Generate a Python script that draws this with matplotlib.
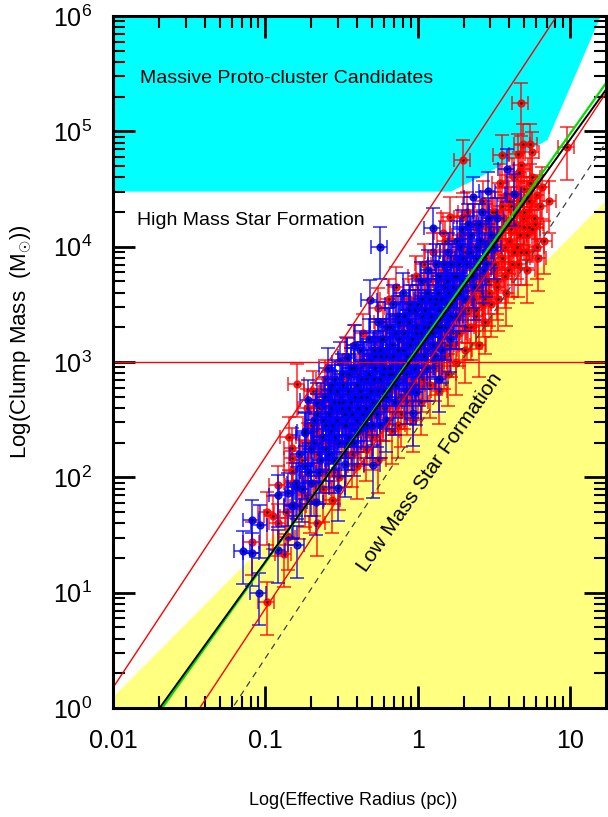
import numpy as np
import matplotlib.pyplot as plt
from matplotlib.ticker import LogLocator, NullFormatter

plt.rcParams['font.family'] = ['Liberation Sans', 'DejaVu Sans']
plt.rcParams['mathtext.fontset'] = 'custom'
plt.rcParams['mathtext.rm'] = 'Liberation Sans'
plt.rcParams['mathtext.it'] = 'Liberation Sans:italic'

# clumps, log10 of radius (pc) and mass (Msun)
red_log_r = [
    0.676, 0.552, 0.657, 0.689, 0.735, 0.748, 0.676, 0.663, 0.978, 0.814,
    0.720, 0.295, 0.210, 0.164, 0.700, -0.795, 0.295, 0.730, -1.090, -0.991,
    -0.991, -0.952, -0.920, -0.880, -0.853, -0.920, -0.847, -0.824, -0.824, -0.824,
    -0.720, -0.863, -0.263, -0.590,
    -0.74, -0.72, -0.70, -0.68, -0.66, -0.65, -0.63, -0.62, -0.60, -0.58,
    -0.57, -0.55, -0.53, -0.52, -0.50, -0.69, -0.61, -0.56, -0.66,
    -0.49, -0.48, -0.47, -0.45, -0.44, -0.43, -0.42, -0.40, -0.39, -0.38,
    -0.37, -0.36, -0.35, -0.34, -0.33, -0.32, -0.31, -0.30, -0.29, -0.28,
    -0.27, -0.26, -0.25,
    -0.24, -0.23, -0.22, -0.21, -0.20, -0.19, -0.18, -0.17, -0.16, -0.15,
    -0.14, -0.13, -0.12, -0.11, -0.10, -0.09, -0.08, -0.07, -0.06, -0.05,
    -0.04, -0.03, -0.02, -0.01, 0.00,
    0.01, 0.02, 0.03, 0.04, 0.05, 0.06, 0.07, 0.08, 0.09, 0.10,
    0.11, 0.12, 0.13, 0.14, 0.15, 0.16, 0.17, 0.18, 0.19, 0.20,
    0.21, 0.22, 0.23, 0.24, 0.25,
    0.26, 0.27, 0.28, 0.29, 0.30, 0.31, 0.32, 0.33, 0.34, 0.35,
    0.36, 0.37, 0.38, 0.39, 0.40, 0.41, 0.42, 0.43, 0.44, 0.45,
    0.46, 0.47, 0.48, 0.49, 0.50,
    0.51, 0.52, 0.53, 0.54, 0.55, 0.56, 0.57, 0.58, 0.60, 0.61,
    0.62, 0.63, 0.64, 0.65, 0.67, 0.68, 0.70, 0.72, 0.74, 0.76,
    0.78, 0.80,
    -0.64, -0.60, -0.54, -0.46, -0.41, -0.35, -0.30, -0.24, -0.18, -0.12,
    -0.06, 0.00, 0.05, 0.10, 0.15, 0.20, 0.25, 0.30, 0.35, 0.40,
    0.45, 0.50, 0.55, 0.60, 0.65, 0.70, 0.75, 0.32, 0.38, 0.44,
    0.52, 0.58, 0.66, 0.72, 0.78, 0.83, 0.86, 0.28, 0.22,
    -0.82, -0.78, -0.76, -0.73, -0.71, -0.67, -0.62, -0.59, -0.55, -0.51,
    -0.47, -0.43, -0.39, -0.37, -0.33, -0.29, -0.27, -0.23, -0.21, -0.17,
    -0.15, -0.13, -0.11, -0.09, -0.07, -0.05, -0.03, -0.01, 0.01, 0.03,
    0.05, 0.07, 0.09, 0.11, 0.13, 0.15, 0.17, 0.19, 0.21, 0.23,
    0.25, 0.27, 0.29, 0.31, 0.33, 0.35, 0.37, 0.39, 0.41, 0.43,
    0.45, 0.47, 0.49, 0.51, 0.53, 0.55, 0.57, 0.59, 0.61, 0.63,
    0.65, 0.67, 0.69, 0.71, 0.73, 0.75, 0.77, 0.79,
]
red_log_m = [
    5.247, 4.796, 4.805, 4.890, 4.890, 4.820, 4.710, 4.650, 4.866, 4.520,
    4.430, 4.753, 4.258, 4.120, 4.170, 2.810, 4.260, 4.170, 1.440, 0.919,
    1.700, 1.665, 1.600, 1.336, 1.480, 1.930, 2.350, 2.255, 2.168, 2.055,
    2.300, 1.700, 3.470, 2.740,
    1.85, 2.05, 2.45, 1.95, 2.20, 2.60, 2.35, 1.90, 2.50, 2.15,
    2.75, 2.30, 2.60, 2.00, 2.45, 2.75, 2.85, 1.80, 1.60,
    2.85, 2.20, 3.05, 2.55, 2.35, 2.75, 3.15, 2.10, 2.65, 2.95,
    2.40, 3.25, 2.70, 2.25, 2.90, 3.05, 2.55, 2.35, 2.80, 3.20,
    2.60, 2.15, 3.00,
    2.45, 3.35, 2.85, 2.60, 3.10, 3.55, 2.75, 2.40, 3.25, 2.95,
    3.65, 2.70, 3.05, 2.55, 3.40, 2.85, 3.20, 2.65, 3.55, 2.95,
    3.30, 2.50, 3.10, 3.75, 2.80,
    3.45, 2.65, 3.20, 3.85, 2.95, 3.35, 3.60, 2.80, 3.15, 3.95,
    3.40, 3.00, 3.70, 2.75, 3.25, 3.55, 3.05, 4.05, 3.35, 2.90,
    3.75, 3.15, 3.50, 3.90, 3.00,
    3.60, 3.25, 4.10, 3.45, 3.80, 3.10, 4.30, 3.55, 3.95, 3.30,
    3.70, 4.20, 3.40, 3.85, 3.15, 4.00, 3.60, 4.40, 3.35, 3.90,
    3.70, 4.15, 3.50, 4.05, 3.80,
    4.30, 3.65, 4.10, 4.55, 3.90, 4.25, 3.75, 4.45, 4.05, 4.35,
    3.85, 4.60, 4.20, 4.00, 4.40, 3.95, 4.30, 4.10, 4.55, 4.25,
    4.00, 4.35,
    2.30, 2.05, 2.50, 2.60, 2.45, 2.50, 3.00, 2.80, 3.05, 2.85,
    3.05, 3.30, 3.50, 3.30, 3.70, 3.45, 3.65, 3.55, 4.00, 3.65,
    4.20, 3.95, 4.15, 4.40, 4.30, 4.50, 4.15, 3.30, 3.45, 3.55,
    3.70, 3.60, 3.85, 3.80, 4.45, 4.05, 4.40, 3.90, 3.60,
    1.95, 1.75, 2.15, 2.60, 1.80, 2.40, 2.65, 2.30, 2.05, 2.70,
    2.50, 2.20, 2.90, 2.55, 2.40, 2.65, 3.05, 2.60, 3.20, 2.65,
    3.10, 2.45, 3.25, 2.70, 3.35, 2.75, 3.50, 2.95, 3.05, 2.85,
    3.70, 3.10, 3.50, 2.95, 3.45, 3.05, 3.80, 3.15, 3.40, 3.25,
    3.85, 3.40, 3.65, 3.95, 3.45, 3.75, 3.55, 4.15, 3.75, 3.50,
    4.05, 3.60, 4.30, 3.85, 3.55, 4.35, 4.00, 3.80, 4.15, 3.95,
    4.45, 4.10, 4.25, 3.95, 4.40, 4.60, 4.20, 3.90,
]

blue_log_r = [
    -0.250, 0.098, -0.315, 0.460, 0.630, 0.584, 0.361, -0.720, 0.138, -1.090,
    -1.037, -1.149, -1.090, -1.044, -0.920, -0.795, -0.853, -0.820, -0.795, -0.920,
    -0.742, -0.824, -0.670, -0.525, -0.295, -0.479, -0.013, -0.030, -0.578, -0.663,
    -0.466,
    -0.74, -0.70, -0.68, -0.65, -0.63, -0.61, -0.58, -0.56, -0.54, -0.52, -0.50,
    -0.48, -0.46, -0.44, -0.42, -0.40, -0.38, -0.36, -0.34, -0.32, -0.30,
    -0.28, -0.26, -0.25,
    -0.24, -0.22, -0.20, -0.18, -0.16, -0.14, -0.12, -0.10, -0.08, -0.06,
    -0.04, -0.02, 0.00,
    0.02, 0.04, 0.06, 0.08, 0.10, 0.12, 0.14, 0.16, 0.18, 0.20, 0.22, 0.24,
    0.26, 0.28, 0.30, 0.33, 0.36, 0.39, 0.42, 0.45, 0.48, 0.52,
    -0.60, -0.59, -0.57, -0.55, -0.53, -0.51, -0.49, -0.47, -0.45, -0.43,
    -0.41, -0.39, -0.37, -0.35, -0.33, -0.31, -0.29, -0.27, -0.25, -0.23,
    -0.21, -0.19, -0.17, -0.15, -0.13, -0.11, -0.09, -0.07, -0.05, -0.03,
    -0.01, 0.01, 0.03, 0.05, 0.07, 0.09, 0.11, 0.13, 0.15, 0.17,
    0.19, 0.21, 0.23, 0.25, 0.27, 0.29, 0.31, 0.34, 0.37, 0.40,
    0.44, 0.50,
    -0.80, -0.78, -0.76, -0.74, -0.72, -0.70, -0.68, -0.66, -0.64, -0.62,
    -0.60, -0.58, -0.56, -0.54, -0.52, -0.50, -0.48, -0.46, -0.44, -0.42,
    -0.40, -0.38, -0.36, -0.34, -0.32, -0.30, -0.28, -0.26, -0.24, -0.22,
    -0.20, -0.18, -0.16, -0.14, -0.12, -0.10, -0.08, -0.06, -0.04, -0.02,
    0.00, 0.02, 0.04, 0.06, 0.08, 0.10, 0.12, 0.14, 0.16, 0.18,
    0.20, 0.22, 0.24, 0.26, 0.28, 0.30, 0.32, 0.35, 0.38, 0.41,
    0.43, 0.47,
    -0.57, -0.53, -0.49, -0.45, -0.41, -0.37, -0.33, -0.29, -0.25, -0.21,
    -0.17, -0.13, -0.09, -0.05, -0.01, 0.03, 0.07, 0.11, 0.15, 0.19,
    -0.55, -0.47, -0.39, -0.31, -0.23, -0.15, -0.07, 0.05, 0.13, 0.21,
]
blue_log_m = [
    4.000, 4.163, 3.539, 4.480, 4.460, 4.675, 4.430, 2.670, 2.853, 1.630,
    1.587, 1.362, 1.344, 1.000, 1.370, 1.410, 1.865, 1.760, 1.920, 1.850,
    2.385, 1.750, 1.787, 1.908, 2.108, 2.116, 2.740, 2.560, 2.758, 2.645,
    3.036,
    2.10, 2.25, 2.50, 2.05, 2.35, 2.70, 2.20, 2.45, 2.85, 2.30, 2.60,
    2.45, 2.75, 2.95, 2.30, 2.80, 3.10, 2.55, 2.85, 3.20, 2.65,
    2.95, 3.35, 2.45,
    3.05, 2.75, 3.30, 2.95, 3.50, 2.85, 3.20, 3.60, 3.00, 3.35,
    2.80, 3.45, 3.15,
    3.70, 3.30, 2.95, 3.55, 3.25, 3.85, 3.45, 3.10, 3.65, 3.95, 3.40, 3.75,
    4.05, 3.60, 3.90, 4.20, 3.75, 4.00, 4.30, 3.85, 4.10, 4.25,
    2.45, 2.95, 2.60, 2.15, 2.75, 3.00, 2.65, 2.30, 2.90, 2.55,
    3.15, 2.40, 2.70, 3.00, 2.45, 2.75, 3.10, 2.55, 2.85, 3.20,
    2.50, 2.90, 3.15, 2.65, 3.40, 2.95, 3.25, 2.75, 3.50, 3.05,
    3.30, 2.90, 3.55, 3.20, 3.80, 3.40, 3.05, 3.60, 3.30, 3.85,
    3.50, 3.20, 3.65, 3.40, 3.85, 4.15, 3.55, 3.95, 3.65, 4.20,
    3.95, 4.00,
    1.95, 2.20, 1.90, 2.40, 2.05, 1.95, 2.30, 2.55, 2.15, 2.50,
    2.25, 2.55, 2.80, 2.35, 2.65, 2.90, 2.55, 2.35, 2.65, 2.95,
    2.50, 2.75, 3.00, 2.60, 2.90, 2.45, 3.05, 2.75, 3.20, 2.95,
    2.70, 3.30, 3.05, 2.80, 3.35, 3.10, 2.90, 3.45, 3.20, 2.95,
    3.50, 3.25, 3.05, 3.60, 3.35, 3.15, 3.55, 3.75, 3.40, 3.30,
    3.60, 3.85, 3.55, 3.75, 4.00, 3.70, 3.85, 4.10, 3.90, 4.05,
    3.80, 4.25,
    2.40, 2.50, 2.80, 2.60, 2.70, 2.85, 2.70, 2.85, 3.10, 3.05,
    2.90, 3.10, 3.40, 3.15, 3.25, 3.40, 3.30, 3.50, 3.55, 3.70,
    2.65, 2.45, 2.60, 3.00, 2.90, 3.25, 3.05, 3.45, 3.30, 3.50,
]

# fractional errors on radius and mass
r_err_frac = 0.12
m_err_frac = 0.48

# reference relations
k_upper_red = 1.5e4      # M = k r^2
k_lower_red = 728.0
k_dashed = 271.0
fit_black = (3.10, 1.83)  # log M = a + b log r
fit_green = (3.12, 1.86)
low_mass_k, low_mass_slope = 580.0, 1.33
m_high_mass = 1000.0
m_cluster = 3.0e4

# cyan region outline (radius, mass)
cyan_r = [0.01, 15.9, 7.1, 2.55, 1.64, 0.01]
cyan_m = [1e6, 1e6, 8.4e4, 4.0e4, m_cluster, m_cluster]

x_min, x_max = 0.01, 17.2
y_min, y_max = 1.0, 1e6

fig = plt.figure(figsize=(6.08, 8.17), dpi=100)
ax = fig.add_axes([0.1859, 0.1334, 0.8108, 0.8470])
ax.set_xscale('log')
ax.set_yscale('log')
ax.set_xlim(x_min, x_max)
ax.set_ylim(y_min, y_max)

rr = np.logspace(np.log10(x_min), np.log10(x_max), 300)
ax.fill_between(rr, 0.1, low_mass_k * rr ** low_mass_slope,
                color='#ffff80', lw=0, zorder=0)
ax.fill(cyan_r, cyan_m, color='#00ffff', lw=0, zorder=0)

red_r = np.power(10.0, red_log_r)
red_m = np.power(10.0, red_log_m)
blue_r = np.power(10.0, blue_log_r)
blue_m = np.power(10.0, blue_log_m)

for r, m, col, z in [(red_r, red_m, '#ff0000', 2), (blue_r, blue_m, '#0000ff', 3)]:
    ax.errorbar(r, m, xerr=r_err_frac * r, yerr=m_err_frac * m, fmt='o',
                color=col, ecolor=col, ms=5, elinewidth=1.1,
                capsize=5, capthick=1.1, alpha=0.85, zorder=z)
    ax.plot(r, m, 'k.', ms=1.5, zorder=z + 0.1)

ax.plot(rr, k_upper_red * rr ** 2, color='red', lw=1, zorder=5)
ax.plot(rr, k_lower_red * rr ** 2, color='red', lw=1, zorder=5)
ax.plot(rr, k_dashed * rr ** 2, color='#404040', lw=0.9, ls=(0, (5, 4)), zorder=5)
ax.plot(rr, 10 ** (fit_green[0] + fit_green[1] * np.log10(rr)), color='#00e000', lw=1.6, zorder=5)
ax.plot(rr, 10 ** (fit_black[0] + fit_black[1] * np.log10(rr)), color='black', lw=1.4, zorder=6)
ax.axhline(m_high_mass, color='red', lw=1, zorder=5)

ax.text(0.0548, 0.909, 'Massive Proto-cluster Candidates', transform=ax.transAxes,
        ha='left', va='center', fontsize=14, zorder=7)
ax.text(0.0487, 0.705, 'High Mass Star Formation', transform=ax.transAxes,
        ha='left', va='center', fontsize=14, zorder=7)
ax.text(0.643, 0.341, 'Low Mass Star Formation', transform=ax.transAxes,
        ha='center', va='center', rotation=55, fontsize=15, zorder=7)

ax.set_xticks([0.01, 0.1, 1, 10], labels=['0.01', '0.1', '1', '10'])
ax.xaxis.set_minor_locator(LogLocator(base=10, subs=np.arange(2, 10), numticks=20))
ax.xaxis.set_minor_formatter(NullFormatter())
y_ticks = [1, 10, 100, 1e3, 1e4, 1e5, 1e6]
ax.set_yticks(y_ticks, labels=[r'$10^{%d}$' % i for i in range(7)])
ax.yaxis.set_minor_locator(LogLocator(base=10, subs=np.arange(2, 10), numticks=20))
ax.yaxis.set_minor_formatter(NullFormatter())

ax.tick_params(which='both', direction='in', top=True, right=True, labelsize=18)
ax.tick_params(which='major', length=16, width=2)
ax.tick_params(which='minor', length=8.5, width=1.5)
ax.tick_params(axis='x', which='major', pad=15)
ax.tick_params(axis='y', which='major', pad=15)
for sp in ax.spines.values():
    sp.set_linewidth(2.2)
    sp.set_zorder(8)

ax.set_xlabel('Log(Effective Radius (pc))', fontsize=13)
ax.xaxis.set_label_coords(0.487, -0.121)
ax.set_ylabel(r'Log(Clump Mass  (M$_{\odot}$))', fontsize=16)
ax.yaxis.set_label_coords(-0.16, 0.529)

fig.savefig('out.png', dpi=100)
